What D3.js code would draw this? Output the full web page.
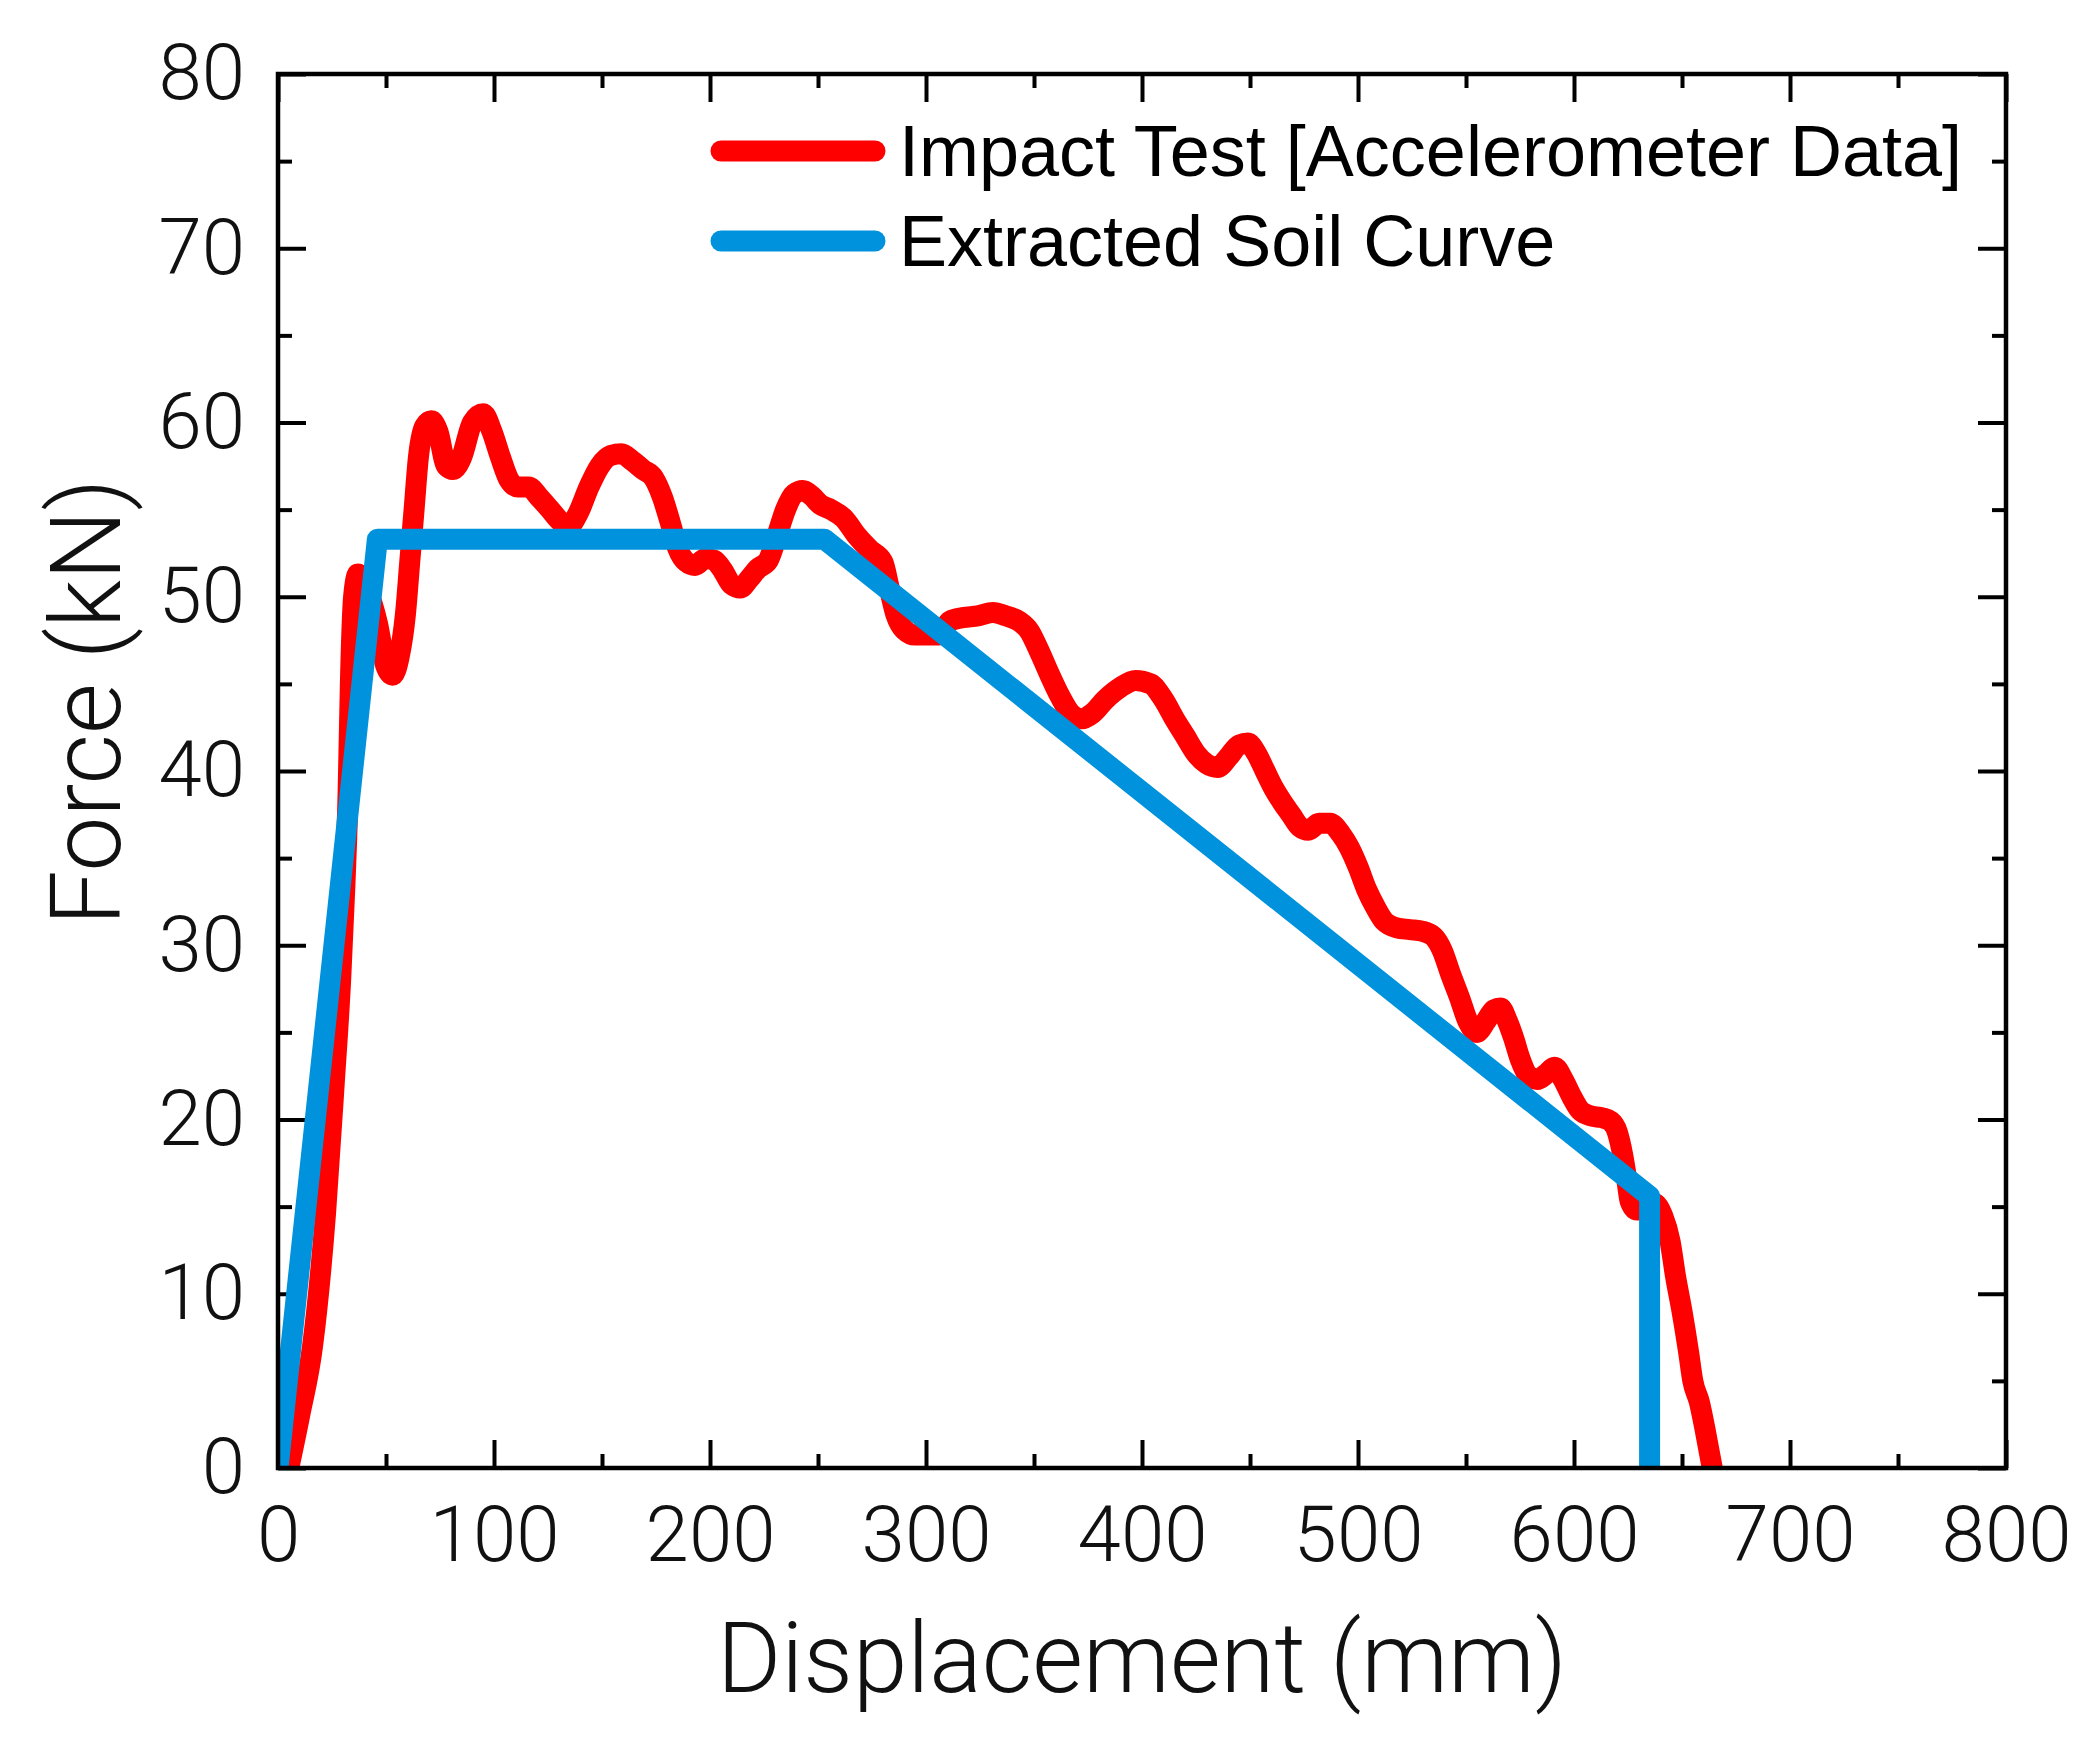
<!DOCTYPE html>
<html lang="en">
<head>
<meta charset="utf-8"/>
<script src="https://cdnjs.cloudflare.com/ajax/libs/d3/7.8.5/d3.min.js"></script>
<style>
  body { margin: 0; background: #fff; }
  svg { display: block; }
  .lbl { font-family: Roboto, "Liberation Sans", sans-serif; font-weight: 300; fill: #111; }
  .leg { font-family: "Liberation Sans", Arial, sans-serif; font-size: 72px; fill: #000; }
</style>
</head>
<body>
<svg id="chart"></svg>
<script>
// impact test curve (mm, kN)
var impactDisp = [5, 10, 16, 22, 26, 29, 31, 32.5, 33.5, 35, 37, 41, 46, 50, 53, 56, 59, 61, 63, 65, 68, 71, 74, 78, 81, 85, 90, 95, 99, 103,
  107, 111, 116, 121, 126, 131, 135, 139, 144, 149, 154, 159, 164, 169, 174, 178, 181.5, 185, 189, 193, 198, 202, 206, 210, 214, 218, 222, 227, 231, 235,
  239, 243, 247, 251, 256, 262, 268, 274, 280, 283, 286, 290, 295, 301, 306, 311, 317, 324, 331, 337, 343, 348, 352, 357, 362, 367, 372, 377, 383, 390,
  397, 404, 410, 415, 420, 425, 430, 435, 440, 445, 449, 453, 457, 461, 465, 469, 473, 477, 482, 487, 492, 496, 500, 504, 508, 512, 518, 524, 530, 535,
  539, 543, 547, 551, 555, 559, 563, 566, 569, 572, 575, 579, 583, 587, 591, 595, 599, 603, 608, 613, 617, 620, 622.5, 624.5, 626, 629, 632, 637, 641, 644.5,
  647, 650, 653, 655, 658, 661, 664];
var impactForce = [0, 3, 7, 14.6, 22, 28, 33.5, 39, 45, 50, 51.3, 50.5, 48.5, 46, 45.5, 46.5, 49, 52, 55, 58, 59.8, 60.1, 59.5, 57.5, 57.3, 58, 60, 60.5, 59.5, 58,
  56.7, 56.3, 56.3, 55.7, 55, 54.3, 54.1, 54.8, 56.3, 57.5, 58.1, 58.2, 57.8, 57.3, 56.8, 55.7, 54.3, 52.8, 52, 51.8, 52.2, 52.1, 51.5, 50.7, 50.5, 51, 51.6, 52.1, 53.5, 55,
  55.9, 56.1, 55.8, 55.3, 55, 54.5, 53.5, 52.7, 52, 50.5, 49, 48.1, 47.8, 47.8, 47.8, 48.6, 48.8, 48.9, 49.1, 48.9, 48.6, 48, 47, 45.6, 44.3, 43.3, 43, 43.3, 44.1, 44.8,
  45.2, 45, 44.1, 43, 42, 41, 40.4, 40.2, 40.8, 41.5, 41.6, 41, 40, 39, 38.2, 37.5, 36.8, 36.6, 37, 37, 36.4, 35.6, 34.5, 33.2, 32.2, 31.4, 31, 30.9, 30.8, 30.5,
  29.7, 28.3, 27, 25.6, 25, 25.6, 26.3, 26.4, 25.7, 24.7, 23.5, 22.5, 22.3, 22.6, 23, 22.3, 21.3, 20.5, 20.2, 20.1, 19.9, 19.3, 18, 16.5, 15.3, 14.8, 15, 15.2, 14.5, 13,
  11, 9, 6.7, 5, 3.8, 2, 0];

// extracted soil curve
var soilDisp = [0, 46, 253, 635, 635];
var soilForce = [0, 53.3, 53.3, 15.6, 0];

var seriesNames = ["Impact Test [Accelerometer Data]", "Extracted Soil Curve"];

var xMajor = [0, 100, 200, 300, 400, 500, 600, 700, 800];
var xMinor = [50, 150, 250, 350, 450, 550, 650, 750];
var yMajor = [0, 10, 20, 30, 40, 50, 60, 70, 80];
var yMinor = [5, 15, 25, 35, 45, 55, 65, 75];

var W = 2097, H = 1751;
var margin = {left: 278, top: 74, right: 91, bottom: 283};
var pw = W - margin.left - margin.right;
var ph = H - margin.top - margin.bottom;

var svg = d3.select("#chart").attr("width", W).attr("height", H);
svg.append("rect").attr("width", W).attr("height", H).attr("fill", "#fff");

var g = svg.append("g").attr("transform", "translate(" + margin.left + "," + margin.top + ")");

var x = d3.scaleLinear().domain([0, 800]).range([0, pw]);
var y = d3.scaleLinear().domain([0, 80]).range([ph, 0]);

// ticks point inward on all four sides
function styleAxis(sel) {
  sel.select(".domain").remove();
  sel.selectAll(".tick line").attr("stroke", "#000").attr("stroke-width", 4);
  sel.selectAll(".tick text").attr("class", "lbl").style("font-size", "78px");
}
g.append("g").attr("transform", "translate(0," + ph + ")")
  .call(d3.axisBottom(x).tickValues(xMajor).tickSize(-28).tickPadding(38).tickFormat(d3.format("d"))).call(styleAxis);
g.append("g").attr("transform", "translate(0," + ph + ")")
  .call(d3.axisBottom(x).tickValues(xMinor).tickSize(-14).tickFormat("")).call(styleAxis);
g.append("g")
  .call(d3.axisTop(x).tickValues(xMajor).tickSize(-28).tickFormat("")).call(styleAxis);
g.append("g")
  .call(d3.axisTop(x).tickValues(xMinor).tickSize(-14).tickFormat("")).call(styleAxis);
g.append("g")
  .call(d3.axisLeft(y).tickValues(yMajor).tickSize(-28).tickPadding(33).tickFormat(d3.format("d"))).call(styleAxis);
g.append("g")
  .call(d3.axisLeft(y).tickValues(yMinor).tickSize(-14).tickFormat("")).call(styleAxis);
g.append("g").attr("transform", "translate(" + pw + ",0)")
  .call(d3.axisRight(y).tickValues(yMajor).tickSize(-28).tickFormat("")).call(styleAxis);
g.append("g").attr("transform", "translate(" + pw + ",0)")
  .call(d3.axisRight(y).tickValues(yMinor).tickSize(-14).tickFormat("")).call(styleAxis);

g.append("clipPath").attr("id", "clip")
  .append("rect").attr("width", pw).attr("height", ph);

var line = d3.line()
  .x(function(d) { return x(d[0]); })
  .y(function(d) { return y(d[1]); })
  .curve(d3.curveMonotoneX);

var impact = d3.zip(impactDisp, impactForce);
var soil = d3.zip(soilDisp, soilForce);

g.append("path").datum(impact)
  .attr("clip-path", "url(#clip)")
  .attr("fill", "none").attr("stroke", "#ff0000").attr("stroke-width", 21)
  .attr("stroke-linejoin", "round")
  .attr("d", line);

g.append("path").datum(soil)
  .attr("clip-path", "url(#clip)")
  .attr("fill", "none").attr("stroke", "#0092dd").attr("stroke-width", 21)
  .attr("stroke-linejoin", "round")
  .attr("d", line.curve(d3.curveLinear));

// frame
g.append("rect").attr("width", pw).attr("height", ph)
  .attr("fill", "none").attr("stroke", "#000").attr("stroke-width", 4.5);

// legend
var legColors = ["#ff0000", "#0092dd"];
var leg = svg.append("g").attr("transform", "translate(713,151)");
seriesNames.forEach(function(name, i) {
  var row = leg.append("g").attr("transform", "translate(0," + i * 90 + ")");
  row.append("line").attr("x1", 8).attr("x2", 162).attr("y1", 0).attr("y2", 0)
    .attr("stroke", legColors[i]).attr("stroke-width", 21).attr("stroke-linecap", "round");
  row.append("text").attr("class", "leg").attr("x", 186).attr("y", 25).text(name);
});

// axis titles
svg.append("text").attr("class", "lbl")
  .attr("x", margin.left + pw / 2).attr("y", 1692)
  .attr("text-anchor", "middle").style("font-size", "98px")
  .text("Displacement (mm)");

svg.append("text").attr("class", "lbl")
  .attr("transform", "translate(120,702) rotate(-90)")
  .attr("text-anchor", "middle").style("font-size", "98px")
  .text("Force (kN)");
</script>
</body>
</html>
